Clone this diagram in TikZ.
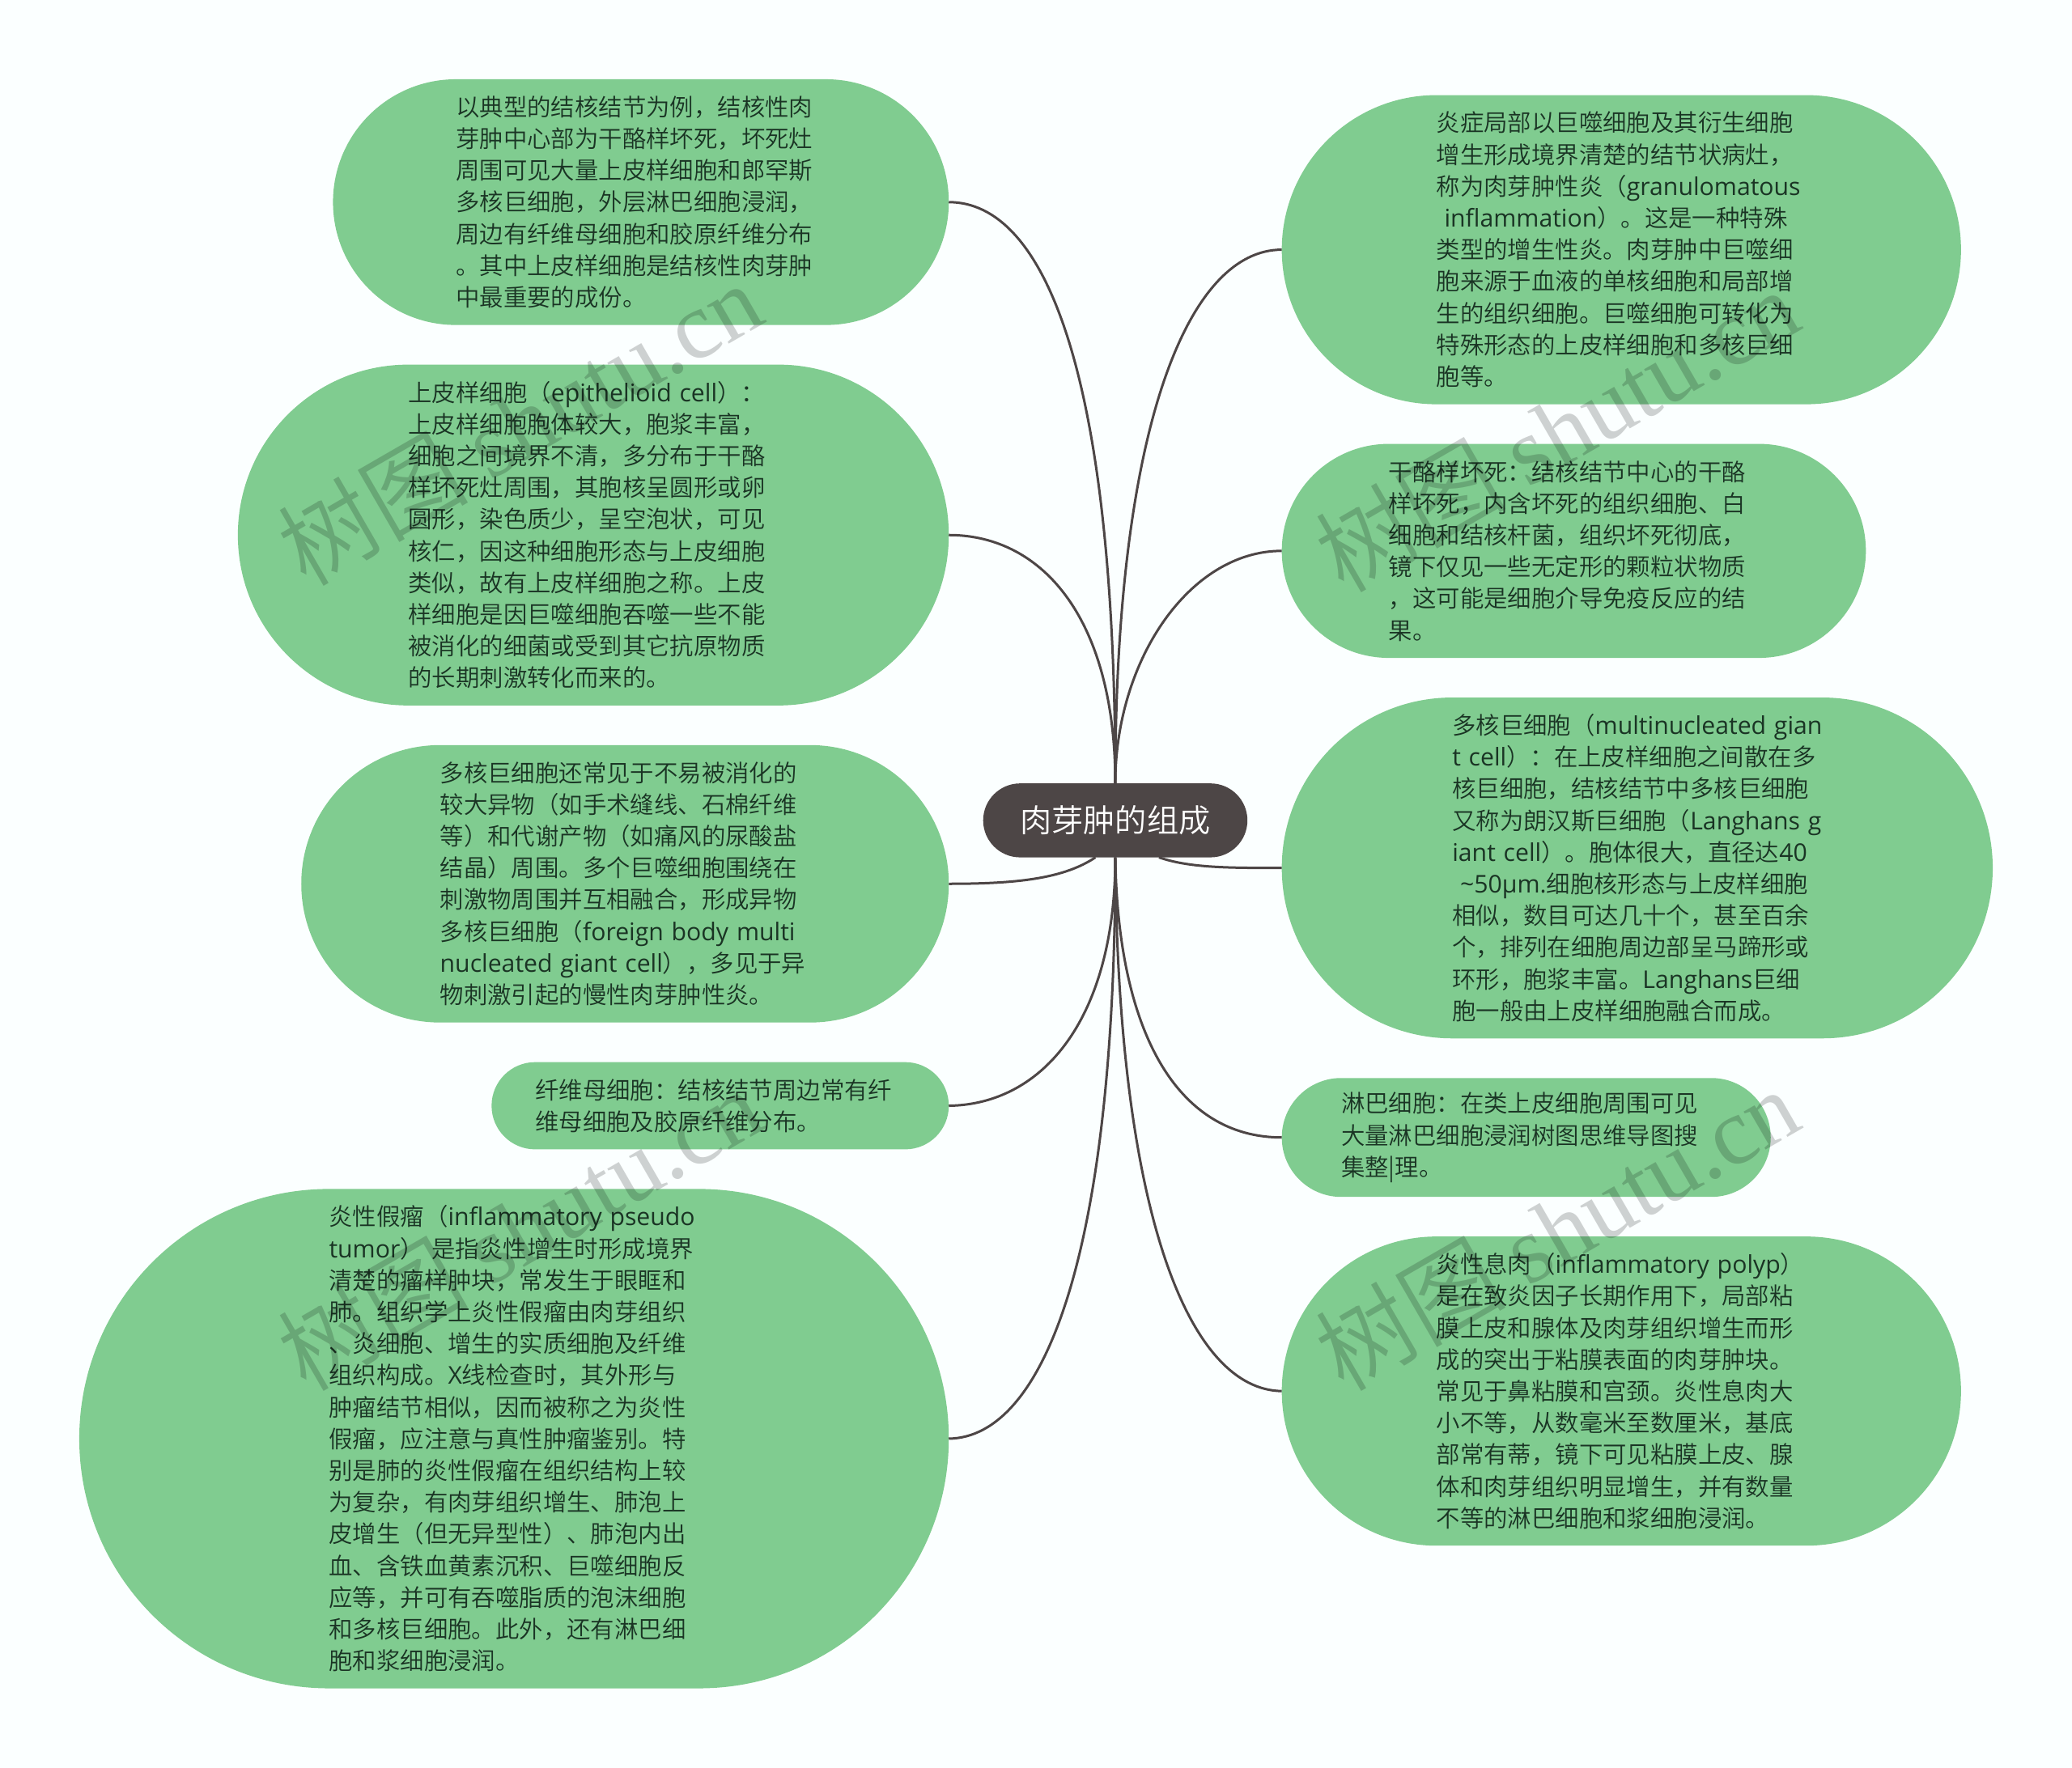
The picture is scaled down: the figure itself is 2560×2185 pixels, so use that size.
\documentclass[tikz,border=0pt]{standalone}
\usepackage{fontspec}
\setmainfont{Noto Sans CJK SC}[UprightFont=* DemiLight]
\newfontfamily\ltnf{Open Sans}
\newfontfamily\wmlat{Liberation Serif}
\newcommand\ltn[1]{{\ltnf\fontsize{30.2}{39.2}\selectfont #1}}
\definecolor{bgc}{HTML}{FBFFFF}
\definecolor{pillc}{HTML}{80CC90}
\definecolor{linec}{HTML}{4D4646}
\definecolor{txtc}{HTML}{1A3424}
\tikzset{
  x=1.63265pt,y=-1.63265pt,
  pilln/.style={fill=pillc,text=txtc,inner sep=0pt,outer sep=0pt,align=left,font=\fontsize{29.4}{39.2}\selectfont},
  hub/.style={fill=linec,text=white,inner sep=0pt,outer sep=0pt,minimum width=326.5pt,minimum height=91.4pt,rounded corners=45.7pt,font=\fontsize{39.2}{45}\selectfont},
  conn/.style={draw=linec,line width=3pt},
  wm/.style={text=black,opacity=.18,text opacity=.18,rotate=30,inner sep=0pt,font=\fontsize{118}{120}\selectfont}
}
\newcommand\pill[7]{%
  \pgfmathsetmacro\pw{(#4-#2)*1.63265}%
  \pgfmathsetmacro\ph{(#5-#3)*1.63265}%
  \pgfmathsetmacro\pr{\ph/2}%
  \pgfmathsetmacro\pcx{(#2+#4)/2}%
  \pgfmathsetmacro\pcy{(#3+#5)/2}%
  \pgfmathsetmacro\ppad{(#6-#2)*1.63265}%
  \node[pilln,text width=\pw pt,minimum height=\ph pt,rounded corners=\pr pt] (#1) at (\pcx,\pcy) {\leftskip=\ppad pt #7\par};
}
\begin{document}
\begin{tikzpicture}
\path[use as bounding box,fill=bgc] (0pt,0pt) rectangle (2560pt,-2185pt);

\pill{n1}{252}{60}{718}{246}{345}{以典型的结核结节为例，结核性肉\\
芽肿中心部为干酪样坏死，坏死灶\\
周围可见大量上皮样细胞和郎罕斯\\
多核巨细胞，外层淋巴细胞浸润，\\
周边有纤维母细胞和胶原纤维分布\\
。其中上皮样细胞是结核性肉芽肿\\
中最重要的成份。}
\pill{n2}{180}{276}{718}{534}{309}{上皮样细胞（\ltn{epithelioid cell}）：\\
上皮样细胞胞体较大，胞浆丰富，\\
细胞之间境界不清，多分布于干酪\\
样坏死灶周围，其胞核呈圆形或卵\\
圆形，染色质少，呈空泡状，可见\\
核仁，因这种细胞形态与上皮细胞\\
类似，故有上皮样细胞之称。上皮\\
样细胞是因巨噬细胞吞噬一些不能\\
被消化的细菌或受到其它抗原物质\\
的长期刺激转化而来的。}
\pill{n3}{228}{564}{718}{774}{333}{多核巨细胞还常见于不易被消化的\\
较大异物（如手术缝线、石棉纤维\\
等）和代谢产物（如痛风的尿酸盐\\
结晶）周围。多个巨噬细胞围绕在\\
刺激物周围并互相融合，形成异物\\
多核巨细胞（\ltn{foreign body multi}\\
\ltn{nucleated giant cell}），多见于异\\
物刺激引起的慢性肉芽肿性炎。}
\pill{n4}{372}{804}{718}{870}{405}{纤维母细胞：结核结节周边常有纤\\
维母细胞及胶原纤维分布。}
\pill{n5}{60}{900}{718}{1278}{249}{炎性假瘤（\ltn{inflammatory pseudo}\\
\ltn{tumor}） 是指炎性增生时形成境界\\
清楚的瘤样肿块，常发生于眼眶和\\
肺。组织学上炎性假瘤由肉芽组织\\
、炎细胞、增生的实质细胞及纤维\\
组织构成。\ltn{X}线检查时，其外形与\\
肿瘤结节相似，因而被称之为炎性\\
假瘤，应注意与真性肿瘤鉴别。特\\
别是肺的炎性假瘤在组织结构上较\\
为复杂，有肉芽组织增生、肺泡上\\
皮增生（但无异型性）、肺泡内出\\
血、含铁血黄素沉积、巨噬细胞反\\
应等，并可有吞噬脂质的泡沫细胞\\
和多核巨细胞。此外，还有淋巴细\\
胞和浆细胞浸润。}
\pill{r1}{970}{72}{1484}{306}{1087}{炎症局部以巨噬细胞及其衍生细胞\\
增生形成境界清楚的结节状病灶，\\
称为肉芽肿性炎（\ltn{granulomatous}\\
\ltn{\ inflammation}）。这是一种特殊\\
类型的增生性炎。肉芽肿中巨噬细\\
胞来源于血液的单核细胞和局部增\\
生的组织细胞。巨噬细胞可转化为\\
特殊形态的上皮样细胞和多核巨细\\
胞等。}
\pill{r2}{970}{336}{1412}{498}{1051}{干酪样坏死：结核结节中心的干酪\\
样坏死，内含坏死的组织细胞、白\\
细胞和结核杆菌，组织坏死彻底，\\
镜下仅见一些无定形的颗粒状物质\\
，这可能是细胞介导免疫反应的结\\
果。}
\pill{r3}{970}{528}{1508}{786}{1099}{多核巨细胞（\ltn{multinucleated gian}\\
\ltn{t cell}）：在上皮样细胞之间散在多\\
核巨细胞，结核结节中多核巨细胞\\
又称为朗汉斯巨细胞（\ltn{Langhans g}\\
\ltn{iant cell}）。胞体很大，直径达\ltn{40}\\
\ltn{\ {\textasciitilde}50μm.}细胞核形态与上皮样细胞\\
相似，数目可达几十个，甚至百余\\
个，排列在细胞周边部呈马蹄形或\\
环形，胞浆丰富。\ltn{Langhans}巨细\\
胞一般由上皮样细胞融合而成。}
\pill{r4}{970}{816}{1340}{906}{1015}{淋巴细胞：在类上皮细胞周围可见\\
大量淋巴细胞浸润树图思维导图搜\\
集整|理。}
\pill{r5}{970}{936}{1484}{1170}{1087}{炎性息肉（\ltn{inflammatory polyp}）\\
是在致炎因子长期作用下，局部粘\\
膜上皮和腺体及肉芽组织增生而形\\
成的突出于粘膜表面的肉芽肿块。\\
常见于鼻粘膜和宫颈。炎性息肉大\\
小不等，从数毫米至数厘米，基底\\
部常有蒂，镜下可见粘膜上皮、腺\\
体和肉芽组织明显增生，并有数量\\
不等的淋巴细胞和浆细胞浸润。}

\node[hub] (c) at (844,621) {肉芽肿的组成};

\draw[conn] (c.north) .. controls (844,280) and (790,153) .. (n1.east);
\draw[conn] (c.north) .. controls (844,470) and (790,405) .. (n2.east);
\draw[conn] ([xshift=-24.5pt]c.south) .. controls (805,665) and (770,669) .. (n3.east);
\draw[conn] (c.south) .. controls (844,770) and (790,836) .. (n4.east);
\draw[conn] (c.south) .. controls (844,950) and (790,1088) .. (n5.east);
\draw[conn] (c.north) .. controls (844,320) and (900,189) .. (r1.west);
\draw[conn] (c.north) .. controls (844,500) and (900,417) .. (r2.west);
\draw[conn] ([xshift=54pt]c.south) .. controls (900,657) and (930,657) .. (r3.west);
\draw[conn] (c.south) .. controls (846,780) and (890,861) .. (r4.west);
\draw[conn] (c.south) .. controls (846,920) and (900,1052) .. (r5.west);

\node[wm] (w1) at (393,320) {树图 {\wmlat shutu.cn}};
\node[wm] (w2) at (1178,325) {树图 {\wmlat shutu.cn}};
\node[wm] (w3) at (393,930) {树图 {\wmlat shutu.cn}};
\node[wm] (w4) at (1178,930) {树图 {\wmlat shutu.cn}};
\end{tikzpicture}
\end{document}
